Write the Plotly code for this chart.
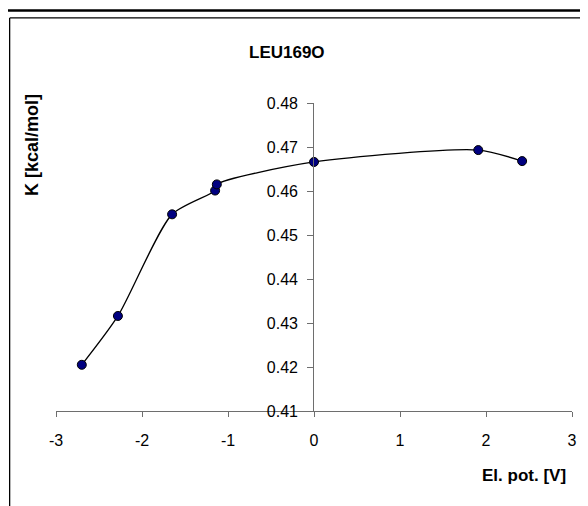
import plotly.graph_objects as go

# Data
el_pot = [-2.70, -2.28, -1.65, -1.15, -1.13, 0.0, 1.91, 2.42]
k_val = [0.4205, 0.4316, 0.4547, 0.4601, 0.4615, 0.4666, 0.4693, 0.4668]
x_ticks = [-3, -2, -1, 0, 1, 2, 3]
y_ticks = [0.41, 0.42, 0.43, 0.44, 0.45, 0.46, 0.47, 0.48]
chart_title = "LEU169O"
x_title = "El. pot. [V]"
y_title = "K [kcal/mol]"

# page body has an 8px margin; work in screen pixels and shift by OFF
OFF = 8
SW, SH = 588, 506
W, H = SW - OFF, SH - OFF
L, R, T, B = 56.3 - OFF, SW - 571.7, 102.7 - OFF, SH - 411
PW, PH = W - L - R, H - T - B


def px(x):
    return (x - OFF - L) / PW


def py(y):
    return (H - B - (y - OFF)) / PH


FONT = "Liberation Sans, Arial, sans-serif"
AXIS_COLOR = "#6e6e6e"

fig = go.Figure()
fig.add_trace(go.Scatter(
    x=el_pot, y=k_val, mode="lines+markers",
    line=dict(color="black", width=1.3, shape="spline", smoothing=0.7),
    marker=dict(color="#000080", size=9, line=dict(color="black", width=1)),
    showlegend=False, cliponaxis=False,
))

fig.update_layout(
    width=W, height=H,
    margin=dict(l=L, r=R, t=T, b=B, pad=0),
    paper_bgcolor="white", plot_bgcolor="white",
    font=dict(family=FONT, size=16, color="black"),
    xaxis=dict(
        range=[-3, 3], domain=[0, 1], tickvals=x_ticks,
        ticktext=[str(v) for v in x_ticks],
        showgrid=False, zeroline=False, showline=True,
        linecolor=AXIS_COLOR, linewidth=1.3,
        ticks="outside", ticklen=5, tickcolor=AXIS_COLOR, tickwidth=1.3,
        tickfont=dict(size=16), anchor="y", ticklabelstandoff=10,
    ),
    yaxis=dict(
        range=[0.41, 0.48], domain=[0, 1], tickvals=y_ticks,
        ticktext=[f"{v:.2f}" for v in y_ticks],
        showgrid=False, zeroline=False, showline=True,
        linecolor=AXIS_COLOR, linewidth=1.3,
        ticks="outside", ticklen=6, tickcolor=AXIS_COLOR, tickwidth=1.3,
        tickfont=dict(size=16), anchor="free", position=px(313.3),
        ticklabelstandoff=6,
    ),
    annotations=[
        dict(text=f"<b>{chart_title}</b>", x=px(287), y=py(52), xref="paper", yref="paper",
             showarrow=False, font=dict(size=17), xanchor="center", yanchor="middle"),
        dict(text=f"<b>{x_title}</b>", x=px(568), y=py(476), xref="paper", yref="paper",
             showarrow=False, font=dict(size=17), xanchor="right", yanchor="middle"),
        dict(text=f"<b>{y_title}</b>", x=px(33), y=py(145), xref="paper", yref="paper",
             showarrow=False, font=dict(size=18), xanchor="center", yanchor="middle",
             textangle=-90),
    ],
    shapes=[
        dict(type="line", xref="paper", yref="paper", x0=px(0), x1=px(SW + 5), y0=py(10), y1=py(10),
             line=dict(color="black", width=2.5)),
        dict(type="line", xref="paper", yref="paper", x0=px(10), x1=px(SW + 5), y0=py(17.5), y1=py(17.5),
             line=dict(color="black", width=1.3)),
        dict(type="line", xref="paper", yref="paper", x0=px(10), x1=px(10), y0=py(17.5), y1=py(SH + 5),
             line=dict(color="black", width=1.3)),
    ],
)

fig.write_html("out.html")
